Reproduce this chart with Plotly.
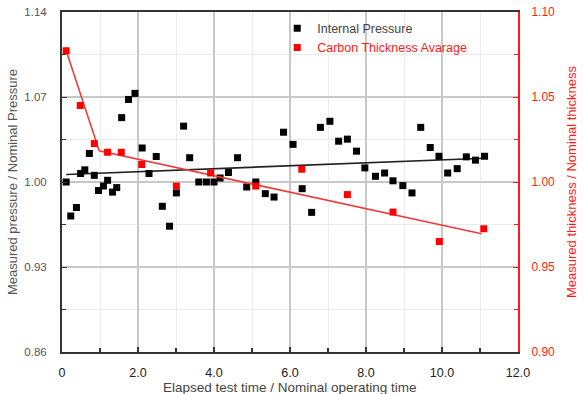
import plotly.graph_objects as go

# Internal pressure (left axis)
p_x = [0.11, 0.23, 0.38, 0.49, 0.60, 0.72, 0.85, 0.96, 1.09, 1.20, 1.33, 1.44, 1.57, 1.75, 1.92,
       2.11, 2.29, 2.48, 2.64, 2.83, 3.01, 3.20, 3.36, 3.60, 3.80, 4.00, 4.16, 4.38, 4.62, 4.86,
       5.10, 5.35, 5.58, 5.83, 6.08, 6.32, 6.57, 6.80, 7.05, 7.28, 7.51, 7.75, 7.97, 8.25, 8.49,
       8.71, 8.97, 9.21, 9.44, 9.69, 9.92, 10.15, 10.40, 10.64, 10.88, 11.12]
p_y = [1.000, 0.972, 0.979, 1.007, 1.010, 1.0235, 1.0055, 0.993, 0.9967, 1.0014, 0.9917, 0.9954, 1.053, 1.068, 1.073,
       1.028, 1.007, 1.021, 0.980, 0.9636, 0.991, 1.046, 1.020, 1.000, 1.000, 1.000, 1.0033, 1.0078, 1.020, 0.9959,
       1.000, 0.9904, 0.9876, 1.041, 1.031, 0.9945, 0.975, 1.045, 1.050, 1.0336, 1.0353, 1.0254, 1.0116, 1.0047, 1.0074,
       1.001, 0.997, 0.991, 1.045, 1.0284, 1.0212, 1.0074, 1.011, 1.0207, 1.018, 1.0212]
p_trend_x = [0.11, 11.12]
p_trend_y = [1.0062, 1.0196]

# Carbon thickness average (right axis)
t_x = [0.11, 0.48, 0.85, 1.20, 1.56, 2.10, 3.01, 3.91, 5.10, 6.31, 7.51, 8.71, 9.93, 11.10]
t_y = [1.0772, 1.045, 1.0226, 1.0175, 1.0175, 1.0103, 0.9976, 1.0053, 0.9976, 1.0075, 0.9926, 0.9823, 0.965, 0.9725]
t_trend_x = [0.11, 0.98, 11.04]
t_trend_y = [1.0772, 1.0183, 0.9696]

x_tickvals = [0, 2, 4, 6, 8, 10, 12]
x_ticktext = ["0", "2.0", "4.0", "6.0", "8.0", "10.0", "12.0"]
yl_tickvals = [0.86, 0.93, 1.00, 1.07, 1.14]
yr_tickvals = [0.90, 0.95, 1.00, 1.05, 1.10]
x_title = "Elapsed test time / Nominal operating time"

RED = "#ff1a1a"
FONT = "Liberation Sans, Arial, sans-serif"

fig = go.Figure()
fig.add_trace(go.Scatter(x=p_trend_x, y=p_trend_y, mode="lines",
                         line=dict(color="#222222", width=1.6), showlegend=False, yaxis="y"))
fig.add_trace(go.Scatter(x=t_trend_x, y=t_trend_y, mode="lines",
                         line=dict(color="#f03a3a", width=1.6), showlegend=False, yaxis="y2"))
fig.add_trace(go.Scatter(x=p_x, y=p_y, mode="markers", name="Internal Pressure",
                         marker=dict(symbol="square", size=7, color="#000000"), yaxis="y"))
fig.add_trace(go.Scatter(x=t_x, y=t_y, mode="markers",
                         name="<span style='color:#ff1a1a'>Carbon Thickness Avarage</span>",
                         marker=dict(symbol="square", size=7, color="#ff0000"), yaxis="y2"))

fig.add_annotation(text=x_title, xref="paper", yref="paper", x=0.5, y=0, yshift=-35,
                   xanchor="center", yanchor="middle", showarrow=False,
                   font=dict(size=13.5, color="#444444", family=FONT))

fig.update_layout(
    width=584, height=394,
    margin=dict(l=62, r=66, t=12, b=42, autoexpand=False),
    paper_bgcolor="white", plot_bgcolor="white",
    font=dict(family=FONT, size=12, color="#444444"),
    legend=dict(x=0.472, y=0.995, xanchor="left", yanchor="top", bgcolor="rgba(0,0,0,0)",
                font=dict(size=12.5, color="#444444"), itemwidth=30, tracegroupgap=0),
    xaxis=dict(range=[0, 12], tickvals=x_tickvals, ticktext=x_ticktext, automargin=False,
               showline=True, linecolor="#333333", linewidth=2, mirror=True,
               ticks="inside", ticklen=5, tickcolor="#333333", tickwidth=1.5,
               showgrid=True, gridcolor="#c8c8c8", gridwidth=1.5, zeroline=False,
               tickfont=dict(size=12.5, color="#222222", family=FONT),
               ticklabelstandoff=8,
               minor=dict(dtick=1, tick0=0, ticks="inside", ticklen=4, tickcolor="#333333",
                          showgrid=True, gridcolor="#ececec", gridwidth=1)),
    yaxis=dict(range=[0.86, 1.14], tickvals=yl_tickvals, tickformat=".2f", automargin=False,
               showline=True, linecolor="#333333", linewidth=2,
               ticks="inside", ticklen=5, tickcolor="#333333",
               showgrid=True, gridcolor="#c8c8c8", gridwidth=1.5, zeroline=False,
               tickfont=dict(size=11.5, color="#555555", family=FONT),
               ticklabelstandoff=11,
               minor=dict(tick0=0.86, dtick=0.035, ticks="inside", ticklen=4, tickcolor="#333333",
                          showgrid=True, gridcolor="#ececec", gridwidth=1),
               title=dict(text="Measured pressure / Nominal Pressure",
                          font=dict(size=13, color="#555555"), standoff=4)),
    yaxis2=dict(range=[0.90, 1.10], tickvals=yr_tickvals, tickformat=".2f", automargin=False,
                overlaying="y", side="right",
                showline=True, linecolor=RED, linewidth=2,
                ticks="inside", ticklen=5, tickcolor=RED,
                showgrid=False, zeroline=False,
                tickfont=dict(size=12, color=RED, family=FONT),
                ticklabelstandoff=9,
                minor=dict(tick0=0.90, dtick=0.025, ticks="inside", ticklen=4, tickcolor=RED),
                title=dict(text="Measured thickness / Nominal thickness",
                           font=dict(size=13, color=RED), standoff=13)),
)

fig.write_html("out.html")
